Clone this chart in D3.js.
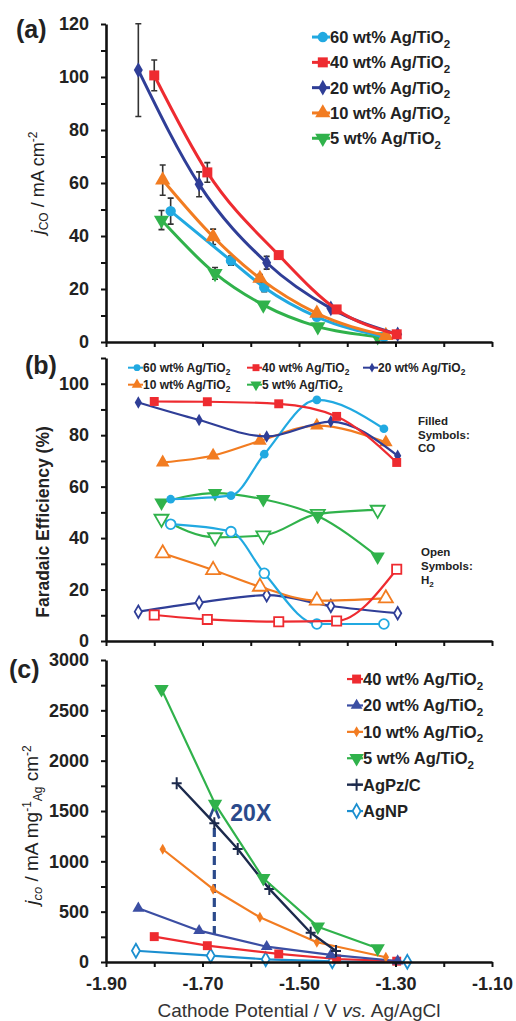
<!DOCTYPE html>
<html>
<head>
<meta charset="utf-8">
<script src="https://cdn.jsdelivr.net/npm/d3@7"></script>
<style>
  body { margin: 0; background: #fff; }
  svg { display: block; font-family: "Liberation Sans", Arial, sans-serif; }
</style>
</head>
<body>
<script>
// cathode potentials (V vs. Ag/AgCl)
var pot60   = [-1.766, -1.641, -1.572, -1.463, -1.324];
var pot40   = [-1.800, -1.690, -1.542, -1.422, -1.2975];
var pot20   = [-1.833, -1.707, -1.567, -1.434, -1.2955];
var pot10   = [-1.7825, -1.678, -1.581, -1.463, -1.320];
var pot5    = [-1.785, -1.674, -1.574, -1.461, -1.337];
var potAgPz = [-1.7535, -1.6755, -1.627, -1.5615, -1.4758, -1.4233];
var potAgNP = [-1.838, -1.683, -1.569, -1.431, -1.2755];

// (a) partial current density for CO, mA cm-2, and error bars
var jco60 = [49.4, 30.7, 20.6, 9.5, 2.0],   err60 = [4.9, 1.7, 1.6, 0, 0];
var jco40 = [100.6, 64.0, 32.8, 12.3, 2.9], err40 = [5.8, 3.7, 0, 0, 0];
var jco20 = [102.6, 59.5, 29.9, 12.7, 2.9], err20 = [17.5, 4.7, 2.4, 0, 0];
var jco10 = [61.1, 39.7, 24.0, 10.8, 2.4],  err10 = [5.7, 2.9, 1.5, 0, 0];
var jco5  = [46.0, 25.9, 14.0, 5.8, 2.0],   err5  = [3.6, 2.2, 0, 0, 0];

// (b) faradaic efficiency, %  (CO filled, H2 open)
var feCO60 = [55.1, 56.5, 72.6, 93.7, 82.5], feH260 = [45.4, 42.5, 26.3, 6.6, 6.6];
var feCO40 = [93.1, 93.0, 92.2, 87.3, 69.4], feH240 = [10.1, 8.4, 7.5, 7.8, 27.9];
var feCO20 = [92.7, 85.9, 79.5, 85.3, 72.0], feH220 = [11.4, 14.9, 17.8, 13.6, 10.8];
var feCO10 = [69.4, 72.1, 77.8, 83.7, 77.2], feH210 = [34.1, 27.6, 21.1, 15.7, 16.6];
var feCO5  = [53.8, 57.5, 55.1, 48.6, 32.8], feH25  = [47.5, 40.3, 41.0, 49.4, 51.0];

// (c) mass activity, mA mg-1(Ag) cm-2
var mass40   = [252, 162, 80, 30, 8];
var mass20   = [534, 311, 152, 70, 10];
var mass10   = [1120, 723, 444, 196, 47];
var mass5    = [2711, 1571, 832, 351, 136];
var massAgPz = [1776, 1379, 1123, 726, 291, 109];
var massAgNP = [112, 63, 27, 7, 2];

// 20X arrow: potential, from value, to value
var arrowPot = -1.6755, arrowFrom = 268, arrowTo = 1545;

// ticks
var xTicks = [-1.9, -1.8, -1.7, -1.6, -1.5, -1.4, -1.3, -1.2, -1.1];
var xTickLabels = ["-1.90", "", "-1.70", "", "-1.50", "", "-1.30", "", "-1.10"];
var aTicks = [0, 10, 20, 30, 40, 50, 60, 70, 80, 90, 100, 110, 120];
var bTicks = [0, 10, 20, 30, 40, 50, 60, 70, 80, 90, 100, 110];
var cTicks = [0, 250, 500, 750, 1000, 1250, 1500, 1750, 2000, 2250, 2500, 2750, 3000];

var col = {
  w60: "#21a9e1", w40: "#ee2b30", w20: "#2f3e97", w10: "#f27c21",
  w5: "#30b24b", w20c: "#3b4ea3", agpz: "#1c2a4c", agnp: "#1b8fd0", note: "#2b4a8b"
};

var svg = d3.select("body").append("svg")
    .attr("width", 516)
    .attr("height", 1021);

var x = d3.scaleLinear().domain([-1.9, -1.1]).range([106, 492]);
var yA = d3.scaleLinear().domain([0, 120]).range([342, 24]);
var yB = d3.scaleLinear().domain([0, 110]).range([641, 358]);
var yC = d3.scaleLinear().domain([0, 3000]).range([962, 660]);

function shape(kind, size) {
  if (kind == "cross") return "M-5,0H5M0,-6V6";
  var t = {circle: d3.symbolCircle, square: d3.symbolSquare, diamond: d3.symbolDiamond,
           up: d3.symbolTriangle, down: d3.symbolTriangle}[kind];
  return d3.symbol().type(t).size(size)();
}

function marker(g, px, py, o) {
  var p = g.append("path")
      .attr("transform", "translate(" + px + "," + py + ")" + (o.kind == "down" ? " rotate(180)" : ""))
      .attr("d", shape(o.kind, o.size));
  if (o.kind == "cross") {
    p.attr("fill", "none").attr("stroke", o.color).attr("stroke-width", 2);
  } else if (o.open) {
    p.attr("fill", "#fff").attr("stroke", o.color).attr("stroke-width", 1.8);
  } else {
    p.attr("fill", o.color);
  }
}

function series(g, y, xs, ys, o) {
  var pts = xs.map(function(v, i) { return [v, ys[i]]; });
  g.append("path")
      .datum(pts)
      .attr("fill", "none")
      .attr("stroke", o.color)
      .attr("stroke-width", o.lw)
      .attr("stroke-linejoin", "round")
      .attr("d", d3.line()
        .x(function(d) { return x(d[0]); })
        .y(function(d) { return y(d[1]); })
        .curve(o.curve || d3.curveLinear));
  pts.forEach(function(d) { marker(g, x(d[0]), y(d[1]), o); });
}

function errorBars(g, y, xs, ys, es) {
  xs.forEach(function(v, i) {
    if (!es[i]) return;
    var px = x(v), y0 = y(ys[i] - es[i]), y1 = y(ys[i] + es[i]);
    g.append("path")
        .attr("d", "M" + px + "," + y0 + "V" + y1 + "M" + (px - 3) + "," + y0 + "h6M" + (px - 3) + "," + y1 + "h6")
        .attr("stroke", "#333")
        .attr("stroke-width", 1.6)
        .attr("fill", "none");
  });
}

function axes(y, ticks, major, showX) {
  var g = svg.append("g");
  g.append("g")
      .attr("transform", "translate(106,0)")
      .call(d3.axisLeft(y).tickValues(ticks).tickSize(5).tickSizeOuter(0).tickPadding(12)
        .tickFormat(function(d) { return d % major === 0 ? d : ""; }));
  g.append("g")
      .attr("transform", "translate(0," + y(0) + ")")
      .call(d3.axisBottom(x).tickValues(xTicks).tickSize(5).tickSizeOuter(0).tickPadding(10)
        .tickFormat(function(d, i) { return showX ? xTickLabels[i] : ""; }));
  g.selectAll(".domain").attr("stroke", "#111").attr("stroke-width", 2.6);
  g.selectAll(".tick line").attr("stroke", "#111").attr("stroke-width", 2);
  g.selectAll(".tick text").attr("fill", "#222").style("font-size", "18px").style("font-weight", "bold");
  return g;
}

function label(g, px, py, main, sub, size) {
  var t = g.append("text")
      .attr("x", px).attr("y", py)
      .attr("fill", "#222")
      .style("font-size", size + "px")
      .style("font-weight", "bold");
  t.append("tspan").text(main);
  if (sub) t.append("tspan").attr("dy", size * 0.28).style("font-size", (size * 0.7) + "px").text(sub);
}

function legendItem(g, lx, base, len, o, main, sub, size) {
  var ly = base - size * 0.36;
  g.append("line")
      .attr("x1", lx).attr("x2", lx + len).attr("y1", ly).attr("y2", ly)
      .attr("stroke", o.color).attr("stroke-width", o.lw);
  marker(g, lx + len * 0.6, ly, o);
  label(g, lx + len, base, main, sub, size);
}

var smooth = d3.curveMonotoneX;

// ---------- (a) ----------
var gA = svg.append("g");
axes(yA, aTicks, 20, false);
var oA = {
  w60: {color: col.w60, kind: "circle", size: 85, lw: 3, curve: smooth},
  w40: {color: col.w40, kind: "square", size: 100, lw: 3, curve: smooth},
  w20: {color: col.w20, kind: "diamond", size: 70, lw: 3, curve: smooth},
  w10: {color: col.w10, kind: "up", size: 100, lw: 3, curve: smooth},
  w5:  {color: col.w5, kind: "down", size: 100, lw: 3, curve: smooth}
};
errorBars(gA, yA, pot60, jco60, err60);
errorBars(gA, yA, pot40, jco40, err40);
errorBars(gA, yA, pot20, jco20, err20);
errorBars(gA, yA, pot10, jco10, err10);
errorBars(gA, yA, pot5, jco5, err5);
series(gA, yA, pot5, jco5, oA.w5);
series(gA, yA, pot60, jco60, oA.w60);
series(gA, yA, pot10, jco10, oA.w10);
series(gA, yA, pot20, jco20, oA.w20);
series(gA, yA, pot40, jco40, oA.w40);

var legA = [["w60", "60 wt% Ag/TiO"], ["w40", "40 wt% Ag/TiO"], ["w20", "20 wt% Ag/TiO"],
            ["w10", "10 wt% Ag/TiO"], ["w5", "5 wt% Ag/TiO"]];
legA.forEach(function(d, i) {
  legendItem(gA, 312, 43 + i * 25.3, 18, oA[d[0]], d[1], "2", 16.5);
});

// ---------- (b) ----------
var gB = svg.append("g");
axes(yB, bTicks, 20, false);
var oB = {
  w60: {color: col.w60, kind: "circle", size: 60, lw: 2.2, curve: smooth},
  w40: {color: col.w40, kind: "square", size: 80, lw: 2.2, curve: smooth},
  w20: {color: col.w20, kind: "diamond", size: 45, lw: 2.2, curve: smooth},
  w10: {color: col.w10, kind: "up", size: 80, lw: 2.2, curve: smooth},
  w5:  {color: col.w5, kind: "down", size: 90, lw: 2.2, curve: smooth}
};
function openOf(o, size) { return Object.assign({}, o, {open: true, size: size}); }
series(gB, yB, pot20, feH220, openOf(oB.w20, 45));
series(gB, yB, pot10, feH210, openOf(oB.w10, 85));
series(gB, yB, pot5, feH25, openOf(oB.w5, 85));
series(gB, yB, pot60, feH260, openOf(oB.w60, 75));
series(gB, yB, pot40, feH240, openOf(oB.w40, 85));
series(gB, yB, pot5, feCO5, oB.w5);
series(gB, yB, pot10, feCO10, oB.w10);
series(gB, yB, pot60, feCO60, oB.w60);
series(gB, yB, pot20, feCO20, oB.w20);
series(gB, yB, pot40, feCO40, oB.w40);

var legB = [["w60", "60 wt% Ag/TiO", 128, 372], ["w40", "40 wt% Ag/TiO", 247, 372],
            ["w20", "20 wt% Ag/TiO", 363, 372], ["w10", "10 wt% Ag/TiO", 128, 389],
            ["w5", "5 wt% Ag/TiO", 247, 389]];
legB.forEach(function(d) {
  var o = Object.assign({}, oB[d[0]], {size: oB[d[0]].size * 0.6, lw: 2});
  legendItem(gB, d[2], d[3], 15, o, d[1], "2", 12);
});

[["Filled", 418, 425], ["Symbols:", 418, 438.5], ["CO", 418, 452]].forEach(function(d) {
  label(gB, d[1], d[2], d[0], null, 11.5);
});
label(gB, 421, 556, "Open", null, 11.5);
label(gB, 421, 570, "Symbols:", null, 11.5);
label(gB, 421, 584, "H", "2", 11.5);

// ---------- (c) ----------
var gC = svg.append("g");
axes(yC, cTicks, 500, true);
var oC = {
  w40:  {color: col.w40, kind: "square", size: 80, lw: 2.2},
  w20:  {color: col.w20c, kind: "up", size: 60, lw: 2.2},
  w10:  {color: col.w10, kind: "diamond", size: 35, lw: 2.2},
  w5:   {color: col.w5, kind: "down", size: 90, lw: 2.2},
  agpz: {color: col.agpz, kind: "cross", size: 0, lw: 2.4},
  agnp: {color: col.agnp, kind: "diamond", size: 55, lw: 2.2, open: true}
};

// 20X dashed arrow
var ax0 = x(arrowPot), ayTip = yC(arrowTo);
gC.append("line")
    .attr("x1", ax0).attr("x2", ax0)
    .attr("y1", yC(arrowFrom)).attr("y2", ayTip + 15)
    .attr("stroke", col.note).attr("stroke-width", 3.2)
    .attr("stroke-dasharray", "9,5");
gC.append("path")
    .attr("d", "M" + (ax0 - 5) + "," + (ayTip + 12) + "L" + ax0 + "," + ayTip + "L" + (ax0 + 5) + "," + (ayTip + 12))
    .attr("fill", "none").attr("stroke", col.note).attr("stroke-width", 2.6);

series(gC, yC, potAgNP, massAgNP, oC.agnp);
series(gC, yC, pot40, mass40, oC.w40);
series(gC, yC, pot20, mass20, oC.w20);
series(gC, yC, pot10, mass10, oC.w10);
series(gC, yC, potAgPz, massAgPz, oC.agpz);
series(gC, yC, pot5, mass5, oC.w5);

gC.append("text")
    .attr("x", ax0 + 16).attr("y", ayTip + 15)
    .attr("fill", col.note)
    .style("font-size", "23px").style("font-weight", "bold")
    .text("20X");

var legC = [["w40", "40 wt% Ag/TiO", "2"], ["w20", "20 wt% Ag/TiO", "2"], ["w10", "10 wt% Ag/TiO", "2"],
            ["w5", "5 wt% Ag/TiO", "2"], ["agpz", "AgPz/C", null], ["agnp", "AgNP", null]];
legC.forEach(function(d, i) {
  legendItem(gC, 347, 685 + i * 26.4, 16, oC[d[0]], d[1], d[2], 16.5);
});

// ---------- panel letters ----------
[["(a)", 16, 38], ["(b)", 25, 374], ["(c)", 9, 678]].forEach(function(d) {
  svg.append("text")
      .attr("x", d[1]).attr("y", d[2])
      .attr("fill", "#222")
      .style("font-size", "25px").style("font-weight", "bold")
      .text(d[0]);
});

// ---------- axis titles ----------
var tA = svg.append("text")
    .attr("transform", "translate(44,183) rotate(-90)")
    .attr("text-anchor", "middle")
    .attr("fill", "#222")
    .style("font-size", "18px");
tA.append("tspan").style("font-style", "italic").text("j");
tA.append("tspan").attr("dy", 4).style("font-size", "12px").text("CO");
tA.append("tspan").attr("dy", -4).text(" / mA cm");
tA.append("tspan").attr("dy", -7).style("font-size", "12px").text("-2");

svg.append("text")
    .attr("transform", "translate(49,522) rotate(-90)")
    .attr("text-anchor", "middle")
    .attr("fill", "#222")
    .style("font-size", "17.5px").style("font-weight", "bold")
    .text("Faradaic Efficiency (%)");

var tC = svg.append("text")
    .attr("transform", "translate(38,825) rotate(-90)")
    .attr("text-anchor", "middle")
    .attr("fill", "#222")
    .style("font-size", "19px");
tC.append("tspan").style("font-style", "italic").text("j");
tC.append("tspan").attr("dy", 4).style("font-size", "13px").style("font-style", "italic").text("co");
tC.append("tspan").attr("dy", -4).text(" / mA mg");
tC.append("tspan").attr("dy", -7).style("font-size", "12px").text("-1");
tC.append("tspan").attr("dy", 11).style("font-size", "12px").text("Ag");
tC.append("tspan").attr("dy", -4).text(" cm");
tC.append("tspan").attr("dy", -7).style("font-size", "12px").text("-2");

var tX = svg.append("text")
    .attr("x", 299).attr("y", 1017)
    .attr("text-anchor", "middle")
    .attr("fill", "#333")
    .style("font-size", "19px");
tX.append("tspan").text("Cathode Potential / V ");
tX.append("tspan").style("font-style", "italic").text("vs.");
tX.append("tspan").text(" Ag/AgCl");
</script>
</body>
</html>
